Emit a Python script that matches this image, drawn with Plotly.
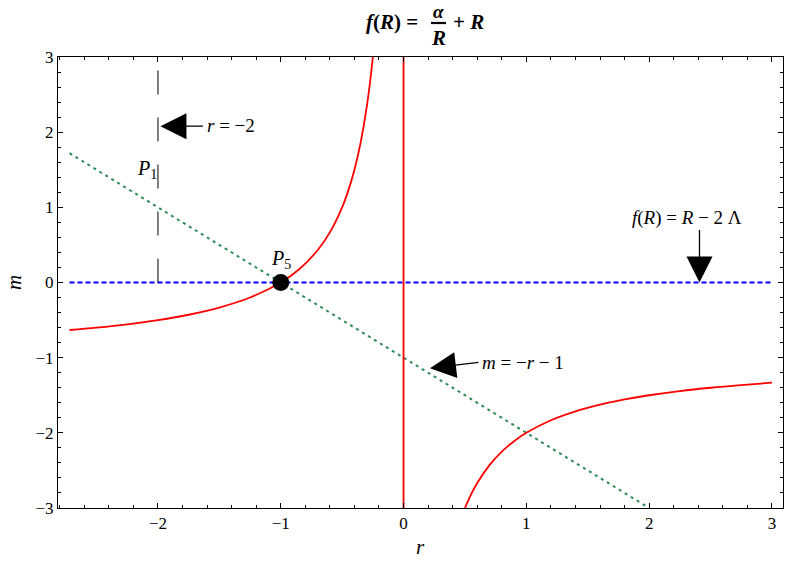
import plotly.graph_objects as go

# Data
r_left = [-2.72, -2.5, -2.25, -2.0, -1.75, -1.5, -1.25, -1.0, -0.85, -0.7, -0.6, -0.5, -0.45, -0.4, -0.35, -0.3, -0.27, -0.25]
m_left = [-0.632, -0.6, -0.556, -0.5, -0.429, -0.333, -0.2, 0.0, 0.176, 0.429, 0.667, 1.0, 1.222, 1.5, 1.857, 2.333, 2.704, 3.0]
r_right = [0.5, 0.55, 0.6, 0.7, 0.8, 0.9, 1.0, 1.2, 1.4, 1.6, 1.8, 2.0, 2.25, 2.5, 2.75, 3.0]
m_right = [-3.0, -2.818, -2.667, -2.429, -2.25, -2.111, -2.0, -1.833, -1.714, -1.625, -1.556, -1.5, -1.444, -1.4, -1.364, -1.333]
r_asym = [0.0, 0.0]
m_asym = [-3.0, 3.0]
r_green = [-2.72, 2.0]
m_green = [1.72, -3.0]
r_blue = [-2.72, 3.0]
m_blue = [0.0, 0.0]
r_vline = [-2.0, -2.0]
m_vline = [0.0, 3.0]
r_point = [-1.0]
m_point = [0.0]
x_ticks = [-2, -1, 0, 1, 2, 3]
y_ticks = [-3, -2, -1, 0, 1, 2, 3]

SERIF = "Liberation Serif"

fig = go.Figure()
fig.add_trace(go.Scatter(x=r_blue, y=m_blue, mode="lines",
                         line=dict(color="#0000ff", width=2, dash="5px,3px")))
fig.add_trace(go.Scatter(x=r_green, y=m_green, mode="lines",
                         line=dict(color="#2e8b57", width=2, dash="3px,4px")))
fig.add_trace(go.Scatter(x=r_vline, y=m_vline, mode="lines",
                         line=dict(color="black", width=1, dash="24px,23px")))
fig.add_trace(go.Scatter(x=r_left, y=m_left, mode="lines", line_shape="spline",
                         line=dict(color="#ff0000", width=1.8)))
fig.add_trace(go.Scatter(x=r_right, y=m_right, mode="lines", line_shape="spline",
                         line=dict(color="#ff0000", width=1.8)))
fig.add_trace(go.Scatter(x=r_asym, y=m_asym, mode="lines",
                         line=dict(color="#ff0000", width=1.8)))
fig.add_trace(go.Scatter(x=r_point, y=m_point, mode="markers",
                         marker=dict(color="black", size=17)))

# pixel helpers for paper-positioned text
L, R_, T, B = 58, 783, 57, 508
def px(x):
    return (x - L) / (R_ - L)
def py(y):
    return (B - y) / (B - T)

ann = []
tfont = dict(family=SERIF, size=21, color="black")
ann.append(dict(xref="paper", yref="paper", x=px(420), y=py(22), xanchor="right", yanchor="middle",
                text="<b><i>f</i>(<i>R</i>) =</b>", showarrow=False, font=tfont))
ann.append(dict(xref="paper", yref="paper", x=px(438.5), y=py(12), xanchor="center", yanchor="middle",
                text="<b><i>α</i></b>", showarrow=False, font=dict(family=SERIF, size=19, color="black")))
ann.append(dict(xref="paper", yref="paper", x=px(438.5), y=py(38), xanchor="center", yanchor="middle",
                text="<b><i>R</i></b>", showarrow=False, font=tfont))
ann.append(dict(xref="paper", yref="paper", x=px(451), y=py(22), xanchor="left", yanchor="middle",
                text="<b>+ <i>R</i></b>", showarrow=False, font=tfont))

afont = dict(family=SERIF, size=19, color="black")
# axis titles
ann.append(dict(xref="paper", yref="paper", x=px(420), y=py(547), xanchor="center", yanchor="middle",
                text="<i>r</i>", showarrow=False, font=dict(family=SERIF, size=21, color="black")))
ann.append(dict(xref="paper", yref="paper", x=px(14), y=py(283), xanchor="center", yanchor="middle",
                text="<i>m</i>", showarrow=False, textangle=-90, font=dict(family=SERIF, size=21, color="black")))

# arrows (empty text) and labels
arrow = dict(showarrow=True, arrowhead=2, arrowsize=4, arrowwidth=1.3, arrowcolor="black", text="")
ann.append(dict(x=-1.98, y=2.08, ax=44, ay=0, **arrow))
ann.append(dict(xref="paper", yref="paper", x=px(205), y=py(126), xanchor="left", yanchor="middle",
                text="<i>r</i> = −2", showarrow=False, font=afont))
ann.append(dict(x=0.215, y=-1.141, ax=50, ay=-6, **arrow))
ann.append(dict(xref="paper", yref="paper", x=px(480), y=py(362), xanchor="left", yanchor="middle",
                text="<i>m</i> = −<i>r</i> − 1", showarrow=False, font=afont))
ann.append(dict(x=2.41, y=0.0, ax=0, ay=-54, **arrow))
ann.append(dict(xref="paper", yref="paper", x=px(687), y=py(218), xanchor="center", yanchor="middle",
                text="<i>f</i>(<i>R</i>) = <i>R</i> − 2 Λ", showarrow=False, font=afont))
ann.append(dict(x=-2.09, y=1.51, xanchor="center", yanchor="middle",
                text="<i>P</i><sub>1</sub>", showarrow=False, font=dict(family=SERIF, size=20, color="black")))
ann.append(dict(x=-0.997, y=0.31, xanchor="center", yanchor="middle",
                text="<i>P</i><sub>5</sub>", showarrow=False, font=dict(family=SERIF, size=20, color="black")))

axis_common = dict(showgrid=False, zeroline=False, showline=True, linecolor="black", linewidth=1,
                   mirror="ticks", ticks="inside", ticklen=5, tickwidth=1, tickcolor="black",
                   tickfont=dict(family=SERIF, size=17, color="black"),
                   minor=dict(dtick=0.2, tick0=0, ticks="inside", ticklen=3, tickcolor="black", tickwidth=1))

fig.update_layout(
    width=787, height=564,
    margin=dict(l=L, r=787 - R_, t=T, b=564 - B),
    paper_bgcolor="white", plot_bgcolor="white",
    showlegend=False,
    xaxis=dict(range=[-2.814, 3.09], tickvals=x_ticks, **axis_common),
    yaxis=dict(range=[-3, 3], tickvals=y_ticks, **axis_common),
    annotations=ann,
    shapes=[dict(type="line", xref="paper", yref="paper", x0=px(431), x1=px(446), y0=py(23), y1=py(23),
                 line=dict(color="black", width=2.2))],
)
fig.write_html("out.html", config={"displayModeBar": False},
               post_script="document.body.style.margin='0';document.body.style.overflow='hidden';")
